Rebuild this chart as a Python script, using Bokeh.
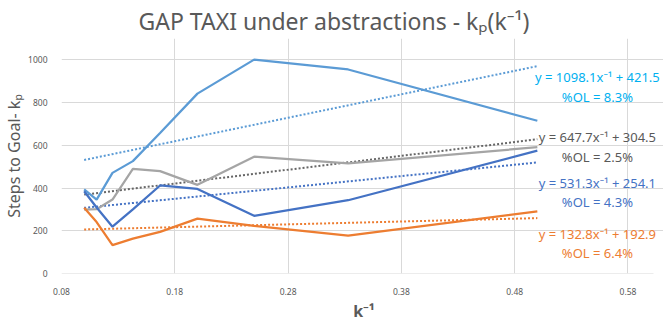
import numpy as np
from bokeh.plotting import figure
from bokeh.models import Range1d, FixedTicker, Label, PrintfTickFormatter
from bokeh.embed import file_html
from bokeh.resources import INLINE

# ---- data ----
k_inv = [0.100, 0.111, 0.125, 0.143, 0.167, 0.200, 0.250, 0.333, 0.500]
series_light_blue = [394, 346, 471, 526, 658, 842, 1001, 955, 715]
series_gray = [299, 301, 346, 490, 479, 415, 547, 516, 591]
series_dark_blue = [385, 309, 219, 300, 412, 396, 270, 343, 575]
series_orange = [308, 241, 133, 163, 195, 257, 223, 177, 291]

trend_slopes = [1098.1, 647.7, 531.3, 132.8]
trend_intercepts = [421.5, 304.5, 254.1, 192.9]
trend_x = [0.1, 0.5]
eq_labels = ["y = 1098.1x\u207b\u00b9 + 421.5", "y = 647.7x\u207b\u00b9 + 304.5",
             "y = 531.3x\u207b\u00b9 + 254.1", "y = 132.8x\u207b\u00b9 + 192.9"]
ol_labels = ["%OL = 8.3%", "%OL = 2.5%", "%OL = 4.3%", "%OL = 6.4%"]

x_ticks = [0.08, 0.18, 0.28, 0.38, 0.48, 0.58]
y_ticks = [0, 200, 400, 600, 800, 1000]
x_axis_min, x_axis_max = 0.08, 0.6025
y_axis_min, y_axis_max = 0, 1100

FONT = "Noto Sans"
TXT = "#595959"
GRID = "#D9D9D9"

line_colors = ["#5B9BD5", "#A5A5A5", "#4472C4", "#ED7D31"]
trend_colors = ["#5B9BD5", "#666666", "#4472C4", "#ED7D31"]
label_colors = ["#00B0F0", "#595959", "#4472C4", "#ED7D31"]

p = figure(frame_width=605, frame_height=235, output_backend="svg", toolbar_location=None,
           title="GAP TAXI under abstractions - k\u209a(k\u207b\u00b9)",
           x_range=Range1d(x_axis_min, 0.614), y_range=Range1d(y_axis_min, y_axis_max),
           min_border_left=47, min_border_right=2, min_border_top=34, min_border_bottom=43)
p.outline_line_color = None
p.background_fill_color = "white"
p.border_fill_color = "white"

p.title.align = "left"
p.title.offset = 77
p.title.standoff = 4
p.title.text_font = FONT
p.title.text_font_size = "23px"
p.title.text_font_style = "normal"
p.title.text_color = TXT

p.xaxis.ticker = FixedTicker(ticks=x_ticks)
p.yaxis.ticker = FixedTicker(ticks=y_ticks)
p.xaxis.formatter = PrintfTickFormatter(format="%.2f")
for ax in (p.xaxis[0], p.yaxis[0]):
    ax.major_tick_line_color = None
    ax.minor_tick_line_color = None
    ax.major_label_text_font = FONT
    ax.major_label_text_font_size = "8.5px"
    ax.major_label_text_color = TXT
    ax.axis_line_color = None
p.xaxis.major_label_standoff = 8
p.yaxis.major_label_standoff = 8

p.xgrid.grid_line_color = GRID
p.ygrid.grid_line_color = GRID

p.xaxis.axis_label = "k\u207b\u00b9"
p.xaxis.axis_label_text_font = FONT
p.xaxis.axis_label_text_font_size = "16px"
p.xaxis.axis_label_text_font_style = "bold"
p.xaxis.axis_label_text_color = TXT
p.xaxis.axis_label_standoff = 2

p.yaxis.axis_label = "Steps to Goal- k\u209a"
p.yaxis.axis_label_text_font = FONT
p.yaxis.axis_label_text_font_size = "16px"
p.yaxis.axis_label_text_font_style = "normal"
p.yaxis.axis_label_text_color = TXT
p.yaxis.axis_label_standoff = 0

# visible x-axis line only up to the axis maximum
p.segment(x0=[x_axis_min], y0=[y_axis_min], x1=[x_axis_max], y1=[y_axis_min],
          line_color=GRID, line_width=1.2)

all_series = [series_light_blue, series_gray, series_dark_blue, series_orange]

# dotted trend lines
for s, b, c in zip(trend_slopes, trend_intercepts, trend_colors):
    ty = [s * xv + b for xv in trend_x]
    p.line(trend_x, ty, line_color=c, line_width=2, line_dash="2 2")

for ys, c in zip(all_series, line_colors):
    p.line(k_inv, ys, line_color=c, line_width=2.25)

# equation labels
eq_y = [921, 637, 423, 186]
ol_y = [828, 544, 335, 98]
for t, o, ey, oy, c in zip(eq_labels, ol_labels, eq_y, ol_y, label_colors):
    p.add_layout(Label(x=0.553, y=ey, text=t, text_align="center", text_baseline="middle",
                       text_font=FONT, text_font_size="13px", text_color=c))
    p.add_layout(Label(x=0.553, y=oy, text=o, text_align="center", text_baseline="middle",
                       text_font=FONT, text_font_size="13px", text_color=c))

open("out.html", "w").write(file_html(p, INLINE))
